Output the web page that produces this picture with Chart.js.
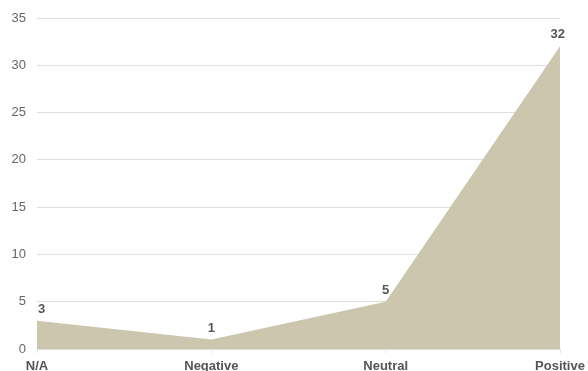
<!DOCTYPE html>
<html>
<head>
<meta charset="utf-8">
<script src="https://cdn.jsdelivr.net/npm/chart.js@4/dist/chart.umd.min.js"></script>
<style>
  html, body { margin: 0; padding: 0; background: #fff; }
  #wrap { width: 588px; height: 371px; position: relative; }
</style>
</head>
<body>
<div id="wrap"><canvas id="c"></canvas></div>
<script>
const categories = ['N/A', 'Negative', 'Neutral', 'Positive'];
const counts = [3, 1, 5, 32];
const yTicks = [0, 5, 10, 15, 20, 25, 30, 35];

// Bold value labels above each point, kept inside the plot horizontally
const valueLabels = {
  id: 'valueLabels',
  afterDatasetsDraw(chart) {
    const ctx = chart.ctx;
    const area = chart.chartArea;
    const meta = chart.getDatasetMeta(0);
    ctx.save();
    ctx.font = 'bold 13px "Liberation Sans", Arial, sans-serif';
    ctx.fillStyle = '#555555';
    ctx.textBaseline = 'bottom';
    meta.data.forEach((pt, i) => {
      const txt = String(counts[i]);
      const w = ctx.measureText(txt).width;
      let x = pt.x - w / 2;
      if (x < area.left + 1) x = area.left + 1;
      if (x + w > area.right + 5) x = area.right + 5 - w;
      ctx.textAlign = 'left';
      ctx.fillText(txt, x, pt.y - 5);
    });
    ctx.restore();
  }
};

new Chart(document.getElementById('c'), {
  type: 'line',
  data: {
    labels: categories,
    datasets: [{
      data: counts,
      fill: 'origin',
      backgroundColor: 'rgb(204,198,174)',
      borderColor: 'rgb(204,198,174)',
      borderWidth: 0,
      pointRadius: 0,
      tension: 0
    }]
  },
  options: {
    responsive: true,
    maintainAspectRatio: false,
    animation: false,
    layout: { padding: { top: 18, right: 28, left: 0, bottom: 0 } },
    plugins: { legend: { display: false }, tooltip: { enabled: false } },
    scales: {
      x: {
        offset: false,
        grid: {
          drawOnChartArea: false,
          drawTicks: true,
          tickLength: 4,
          tickColor: '#e4e4e4'
        },
        border: { display: true, color: '#dddddd' },
        ticks: {
          color: '#555555',
          font: { family: '"Liberation Sans", Arial, sans-serif', size: 13, weight: 'bold' },
          padding: 6,
          maxRotation: 0,
          autoSkip: false
        },
        afterFit(scale) {
          scale.height = 22;
          scale.paddingLeft = 0;
          scale.paddingRight = 0;
        }
      },
      y: {
        min: 0,
        max: 35,
        afterBuildTicks(scale) { scale.ticks = yTicks.map(v => ({ value: v })); },
        grid: { color: '#dddddd', drawTicks: false },
        border: { display: false },
        ticks: {
          color: '#666666',
          font: { family: '"Liberation Sans", Arial, sans-serif', size: 13 },
          padding: 11
        },
        afterFit(scale) {
          scale.width = 37;
          scale.paddingTop = 0;
          scale.paddingBottom = 0;
        }
      }
    }
  },
  plugins: [valueLabels]
});
</script>
</body>
</html>
